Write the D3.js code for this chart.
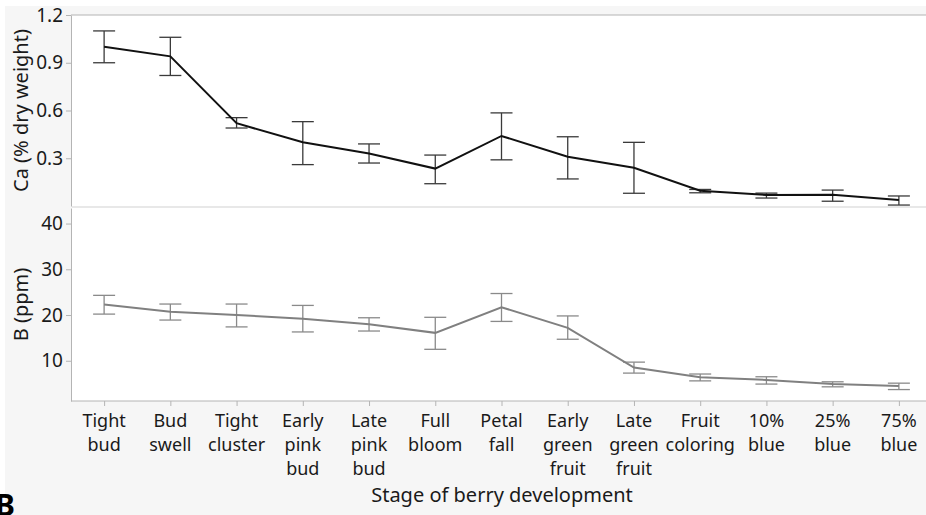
<!DOCTYPE html>
<html lang="en">
<head>
<meta charset="UTF-8">
<title>Ca and B by berry stage</title>
<style>
  body { margin: 0; background: #fff; }
  svg { display: block; font-family: "Noto Sans", "Open Sans", sans-serif; }
  .tick text { fill: #1a1a1a; }
</style>
</head>
<body>
<div id="chart"></div>
<script src="https://d3js.org/d3.v7.min.js"></script>
<script>
const stages = ["Tight|bud", "Bud|swell", "Tight|cluster", "Early|pink|bud", "Late|pink|bud",
  "Full|bloom", "Petal|fall", "Early|green|fruit", "Late|green|fruit", "Fruit|coloring",
  "10%|blue", "25%|blue", "75%|blue"];

// Ca (% dry weight): mean with lower / upper error limits
const caMean = [1.00, 0.94, 0.52, 0.40, 0.33, 0.235, 0.44, 0.31, 0.24, 0.096, 0.069, 0.071, 0.038];
const caLow  = [0.90, 0.82, 0.49, 0.26, 0.27, 0.14, 0.29, 0.17, 0.08, 0.083, 0.05, 0.03, 0.006];
const caHigh = [1.10, 1.06, 0.555, 0.53, 0.39, 0.32, 0.585, 0.435, 0.40, 0.104, 0.081, 0.10, 0.063];

// B (ppm)
const bMean = [22.3, 20.7, 20.0, 19.2, 18.0, 16.1, 21.7, 17.2, 8.5, 6.4, 5.8, 4.9, 4.5];
const bLow  = [20.2, 18.9, 17.4, 16.3, 16.5, 12.5, 18.6, 14.7, 7.3, 5.6, 4.9, 4.3, 3.7];
const bHigh = [24.3, 22.4, 22.4, 22.1, 19.4, 19.5, 24.7, 19.8, 9.7, 7.1, 6.5, 5.4, 5.1];

const caTicks = [0.3, 0.6, 0.9, 1.2];
const bTicks = [10, 20, 30, 40];

const width = 926, height = 515;
const left = 71;

const svg = d3.select("#chart").append("svg")
  .attr("width", width)
  .attr("height", height);

// grey figure background
svg.append("rect").attr("x", 5).attr("y", 6)
  .attr("width", width - 5).attr("height", height - 6).attr("fill", "#f6f6f6");

const x = d3.scalePoint()
  .domain(d3.range(stages.length))
  .range([left, 932])
  .padding(0.5);

const panels = [
  { top: 15, bottom: 206, domain: [0, 1.2], ticks: caTicks, fmt: d3.format(".1f"),
    mean: caMean, low: caLow, high: caHigh, line: "#111", bar: "#3a3a3a",
    title: "Ca (% dry weight)" },
  { top: 208, bottom: 401, domain: [1.2, 43.4], ticks: bTicks, fmt: d3.format("d"),
    mean: bMean, low: bLow, high: bHigh, line: "#808080", bar: "#8a8a8a",
    title: "B (ppm)" }
];

panels.forEach(p => {
  const y = d3.scaleLinear().domain(p.domain).range([p.bottom, p.top]);

  svg.append("rect")
    .attr("x", left).attr("y", p.top)
    .attr("width", width - left).attr("height", p.bottom - p.top)
    .attr("fill", "#fff");

  const ax = svg.append("g")
    .attr("transform", `translate(${left},0)`)
    .call(d3.axisLeft(y).tickValues(p.ticks).tickFormat(p.fmt)
      .tickSize(5).tickSizeOuter(0).tickPadding(3));
  ax.select(".domain").attr("stroke", "#b4b4b4");
  ax.selectAll(".tick line").attr("stroke", "#b4b4b4");
  ax.selectAll(".tick text").attr("font-size", 19).attr("font-family", "Noto Sans, sans-serif");

  svg.append("text")
    .attr("transform", `translate(28,${(p.top + p.bottom) / 2}) rotate(-90)`)
    .attr("text-anchor", "middle")
    .attr("font-size", 20)
    .attr("fill", "#1a1a1a")
    .text(p.title);

  const g = svg.append("g");
  const cap = 11;
  stages.forEach((s, i) => {
    const cx = x(i);
    g.append("line").attr("x1", cx).attr("x2", cx)
      .attr("y1", y(p.low[i])).attr("y2", y(p.high[i]))
      .attr("stroke", p.bar).attr("stroke-width", 1.3);
    [p.low[i], p.high[i]].forEach(v => {
      g.append("line").attr("x1", cx - cap).attr("x2", cx + cap)
        .attr("y1", y(v)).attr("y2", y(v))
        .attr("stroke", p.bar).attr("stroke-width", 1.3);
    });
  });

  g.append("path")
    .datum(p.mean)
    .attr("fill", "none")
    .attr("stroke", p.line)
    .attr("stroke-width", 2)
    .attr("d", d3.line().x((d, i) => x(i)).y(d => y(d)));
});

// top border and panel separator
svg.append("line").attr("x1", left).attr("x2", width).attr("y1", 15).attr("y2", 15)
  .attr("stroke", "#b4b4b4");
svg.append("line").attr("x1", left + 1).attr("x2", width).attr("y1", 207).attr("y2", 207)
  .attr("stroke", "#e8e8e8").attr("stroke-width", 2);

// x axis
const xa = svg.append("g")
  .attr("transform", "translate(0,401)")
  .call(d3.axisBottom(x).tickSize(5).tickSizeOuter(0).tickFormat(""));
xa.select(".domain").attr("stroke", "#b4b4b4").attr("d", `M${left},0H${width}`);
xa.selectAll(".tick line").attr("stroke", "#b4b4b4");

const labels = svg.append("g").selectAll("text")
  .data(stages)
  .enter().append("text")
  .attr("x", (d, i) => x(i))
  .attr("y", 427)
  .attr("text-anchor", "middle")
  .attr("font-size", 18)
  .attr("fill", "#1a1a1a");
labels.selectAll("tspan")
  .data(d => d.split("|"))
  .enter().append("tspan")
  .attr("x", function () { return this.parentNode.getAttribute("x"); })
  .attr("dy", (d, i) => i === 0 ? 0 : 24)
  .text(d => d);

svg.append("text")
  .attr("x", 502).attr("y", 502)
  .attr("text-anchor", "middle")
  .attr("font-size", 20)
  .attr("fill", "#1a1a1a")
  .text("Stage of berry development");

svg.append("text")
  .attr("x", -5).attr("y", 516)
  .attr("font-size", 30)
  .attr("font-weight", "bold")
  .text("B");
</script>
</body>
</html>
